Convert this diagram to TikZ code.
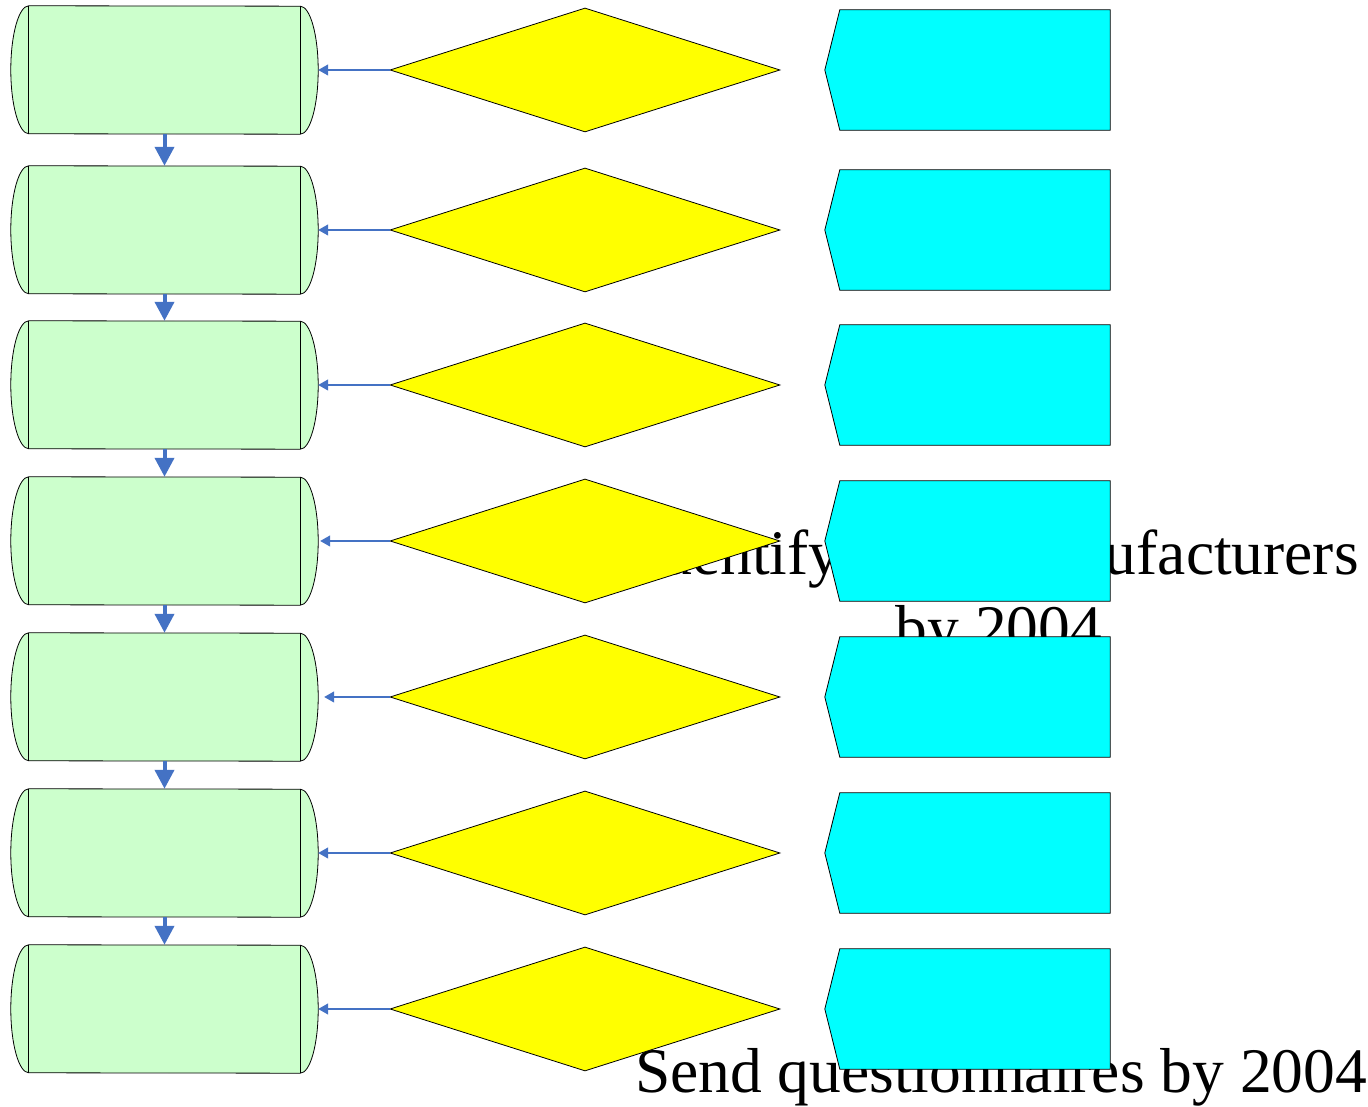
\documentclass[tikz,border=0pt]{standalone}
\usepackage{fontspec}
\setmainfont{Liberation Serif}
\usetikzlibrary{shapes.geometric,arrows.meta}
\definecolor{gfill}{HTML}{CCFFCC}
\definecolor{yfill}{HTML}{FFFF00}
\definecolor{cfill}{HTML}{00FFFF}
\definecolor{arrowblue}{HTML}{4472C4}
\tikzset{
  gbox/.style={rectangle,draw=none,minimum width=307pt,minimum height=128pt,inner sep=0pt},
  gshape/.style={draw=black,line width=0.8pt,fill=gfill},
  dbox/.style={diamond,draw=black,line width=0.8pt,fill=yfill,minimum width=390pt,minimum height=124pt,inner sep=0pt},
  cbox/.style={rectangle,draw=none,minimum width=285pt,minimum height=120pt,inner sep=0pt},
  cshape/.style={draw=black,line width=0.8pt,fill=cfill},
  thinarrow/.style={draw=arrowblue,line width=1.2pt,-{Triangle[length=10pt,width=11pt]}},
  thickarrow/.style={draw=arrowblue,line width=4pt,-{Triangle[length=19pt,width=19pt]}},
  bigtext/.style={font=\fontsize{63.5}{75}\selectfont,align=center,inner sep=0pt,anchor=base}
}
\begin{document}
\begin{tikzpicture}[x=1pt,y=1pt]
\useasboundingbox (0,0) rectangle (1368,1107);
% texts (behind the shapes)
\node[bigtext] (t1) at (999,457) {Identify local manufacturers\\by 2004};
\node[bigtext] (t2) at (1001,14) {Send questionnaires by 2004};
\foreach \i/\y/\dx in {1/1037/0,2/877/0,3/722/0,4/566/2,5/410/6,6/254/0,7/98/0}{
  % green stored-data boxes
  \node[gbox] (g\i) at (164.5,\y) {};
  \draw[gshape] ([xshift=18pt]g\i.north west) arc[start angle=90,end angle=270,x radius=18pt,y radius=64pt]
     -- ([xshift=-18pt]g\i.south east) arc[start angle=-90,end angle=90,x radius=18pt,y radius=64pt] -- cycle;
  \draw[line width=0.8pt] ([xshift=18pt]g\i.north west) -- ([xshift=18pt]g\i.south west);
  \draw[line width=0.8pt] ([xshift=-18pt]g\i.north east) -- ([xshift=-18pt]g\i.south east);
  % yellow diamonds
  \node[dbox] (d\i) at (585,\y) {};
  % cyan display shapes
  \node[cbox] (c\i) at (967.5,\y) {};
  \draw[cshape] (c\i.west) -- ([xshift=15pt]c\i.north west) -- (c\i.north east) -- (c\i.south east) -- ([xshift=15pt]c\i.south west) -- cycle;
  % connector
  \coordinate (ge\i) at ([xshift=\dx pt]g\i.east);
  \draw[thinarrow] (d\i.west) -- (ge\i);
}
\foreach \i/\j in {1/2,2/3,3/4,4/5,5/6,6/7}{
  \draw[thickarrow] (g\i.south) -- (g\j.north);
}
\end{tikzpicture}
\end{document}
